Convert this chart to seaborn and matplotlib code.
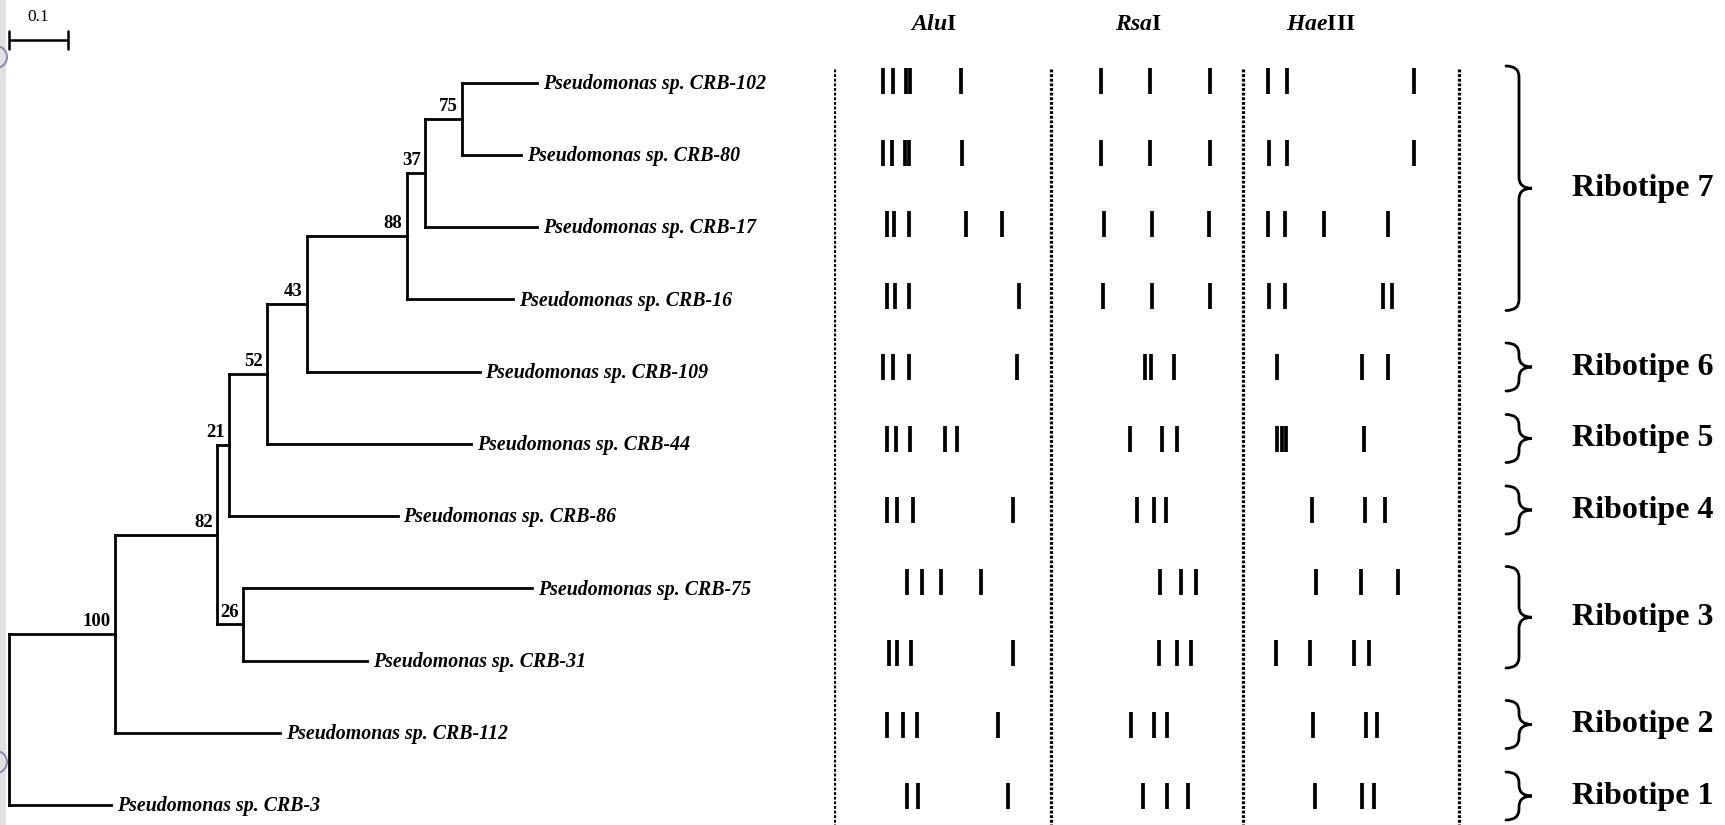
import numpy as np
import pandas as pd
import matplotlib
matplotlib.use("Agg")
import matplotlib.pyplot as plt
from matplotlib.collections import LineCollection
from matplotlib.path import Path
from matplotlib.patches import PathPatch, Rectangle, Arc
import seaborn as sns

sns.set_theme(style="white")
plt.rcParams["font.family"] = ["Liberation Serif", "DejaVu Serif"]
plt.rcParams["text.color"] = "black"
plt.rcParams["mathtext.fontset"] = "custom"
plt.rcParams["mathtext.it"] = "Liberation Serif:italic:bold"
plt.rcParams["mathtext.rm"] = "Liberation Serif:bold"
plt.rcParams["mathtext.bf"] = "Liberation Serif:bold"

# ---------------------------------------------------------------- data
# strains in tree order, top to bottom
strains = ["CRB-102", "CRB-80", "CRB-17", "CRB-16", "CRB-109", "CRB-44",
           "CRB-86", "CRB-75", "CRB-31", "CRB-112", "CRB-3"]

# tree topology with branch lengths (substitutions per site)
edge_parent = ["root", "root", "n100", "n100", "n82", "n82", "n26", "n26",
               "n21", "n21", "n52", "n52", "n43", "n43", "n88", "n88",
               "n37", "n37", "n75", "n75"]
edge_child = ["n100", "CRB-3", "n82", "CRB-112", "n21", "n26", "CRB-75", "CRB-31",
              "n52", "CRB-86", "n43", "CRB-44", "n88", "CRB-109", "n37", "CRB-16",
              "n75", "CRB-17", "CRB-102", "CRB-80"]
edge_length = [0.180, 0.173, 0.173, 0.280, 0.020, 0.044, 0.490, 0.210,
               0.064, 0.286, 0.068, 0.346, 0.169, 0.293, 0.031, 0.181,
               0.063, 0.190, 0.127, 0.100]

# bootstrap support
bootstrap_nodes = ["n100", "n82", "n26", "n21", "n52", "n43", "n88", "n37", "n75"]
bootstrap_values = [100, 82, 26, 21, 52, 43, 88, 37, 75]

# restriction enzymes and band positions (migration within each lane)
enzymes = ["Alu", "Rsa", "Hae"]
enzyme_suffix = ["I", "I", "III"]
alu_bands = [
    [49, 59, 71.5, 75.5, 127],
    [49, 58, 71, 75, 128],
    [53, 60, 75, 132, 168],
    [53, 61, 75, 185],
    [49, 59, 75, 183],
    [53, 62, 76, 111, 123],
    [53, 63, 79, 179],
    [73, 88, 107, 147],
    [55, 63, 77, 179],
    [53, 69, 83, 164],
    [73, 84, 174],
]
rsa_bands = [
    [50, 99, 159],
    [50, 99, 159],
    [53, 101, 158],
    [52, 101, 159],
    [94, 100, 123],
    [79, 111, 126],
    [86, 103, 115],
    [109, 130, 145],
    [108, 126, 140],
    [80, 103, 116],
    [92, 116, 137],
]
hae_bands = [
    [25, 44, 171],
    [26, 44, 171],
    [25, 42, 81, 145],
    [26, 42, 140, 149],
    [34, 119, 145],
    [34, 39, 43, 121],
    [69, 122, 142],
    [73, 118, 155],
    [33, 67, 111, 126],
    [70, 123, 134],
    [72, 119, 131],
]

# ribotype groups (first row, last row)
ribotype_names = ["Ribotipe 7", "Ribotipe 6", "Ribotipe 5", "Ribotipe 4",
                  "Ribotipe 3", "Ribotipe 2", "Ribotipe 1"]
ribotype_first = [0, 4, 5, 6, 7, 9, 10]
ribotype_last = [3, 4, 5, 6, 8, 9, 10]

# ---------------------------------------------------------------- layout
W, H = 1725, 825
PX_PER_UNIT = 590.0          # tree scale: pixels per substitution unit
ROOT_PX = 9.0
LEAF_TOP_PX, LEAF_STEP_PX = 82.5, 72.25
GEL_LEFT_PX = 834
GEL_ROW_TOP_PX, GEL_ROW_STEP_PX = 81.0, 71.5
lane_left = [0, 217, 409, 625]
header_x = [100, 305, 487]

fig = plt.figure(figsize=(W / 100, H / 100), dpi=100)
fig.patch.set_facecolor("white")

# thin grey strip along the left edge
fig.patches.append(Rectangle((0, 0), 6 / W, 1, transform=fig.transFigure,
                             facecolor="#e1e1e1", edgecolor="none", zorder=-5))
for cy in (57, 762):
    fig.patches.append(Arc((-4 / W, 1 - cy / H), 22 / W, 22 / H,
                           theta1=-90, theta2=90, transform=fig.transFigure,
                           color="#8a84b8", lw=1.4, zorder=-4))

# ---------------------------------------------------------------- tree
ax = fig.add_axes([0, 0, 1, 1])
ax.set_facecolor("none")
ax.set_xlim(-ROOT_PX / PX_PER_UNIT, (W - ROOT_PX) / PX_PER_UNIT)
ax.set_ylim((H - LEAF_TOP_PX) / LEAF_STEP_PX, -LEAF_TOP_PX / LEAF_STEP_PX)
ax.axis("off")

children = {}
depth = {"root": 0.0}
for p, c, L in zip(edge_parent, edge_child, edge_length):
    children.setdefault(p, []).append(c)
    depth[c] = depth[p] + L

ypos = {s: i for i, s in enumerate(strains)}


def node_y(n):
    if n in ypos:
        return ypos[n]
    ys = [node_y(c) for c in children[n]]
    ypos[n] = (min(ys) + max(ys)) / 2
    return ypos[n]


node_y("root")

segments = []
for n, kids in children.items():
    ys = [ypos[k] for k in kids]
    segments.append([(depth[n], min(ys)), (depth[n], max(ys))])
    for k in kids:
        segments.append([(depth[n], ypos[k]), (depth[k], ypos[k])])
ax.add_collection(LineCollection(segments, colors="black", linewidths=2.0,
                                 capstyle="projecting", joinstyle="miter"))

for s in strains:
    ax.annotate(f"Pseudomonas sp. {s}", (depth[s], ypos[s]), xytext=(4, -1),
                textcoords="offset points", ha="left", va="center",
                fontsize=14.3, style="italic", weight="bold", color="black")

for n, v in zip(bootstrap_nodes, bootstrap_values):
    ax.annotate(str(v), (depth[n], ypos[n]), xytext=(-3, 5.5),
                textcoords="offset points", ha="right", va="baseline",
                fontsize=13.5, weight="bold", color="black")

# scale bar
sb_y = (40 - LEAF_TOP_PX) / LEAF_STEP_PX
cap = 9 / LEAF_STEP_PX
ax.plot([0, 0.1], [sb_y, sb_y], color="black", lw=1.8, solid_capstyle="butt")
ax.plot([0, 0], [sb_y - cap, sb_y + cap], color="black", lw=1.8)
ax.plot([0.1, 0.1], [sb_y - cap, sb_y + cap], color="black", lw=1.8)
ax.text(0.05, (17 - LEAF_TOP_PX) / LEAF_STEP_PX, "0.1", ha="center", va="center",
        fontsize=12.5, color="black")

# ---------------------------------------------------------------- gel patterns
gx = fig.add_axes([GEL_LEFT_PX / W, 0, 1 - GEL_LEFT_PX / W, 1])
gx.set_facecolor("none")

records = []
for e, bands in enumerate([alu_bands, rsa_bands, hae_bands]):
    for r, row in enumerate(bands):
        for b in row:
            records.append({"enzyme": enzymes[e], "row": r, "x": lane_left[e] + b})
df = pd.DataFrame(records)

band_len_pt = 27 * 0.72
sns.scatterplot(data=df, x="x", y="row", marker="|", s=band_len_pt ** 2,
                linewidth=2.7, color="black", legend=False, ax=gx)
gy_bottom = (H - GEL_ROW_TOP_PX) / GEL_ROW_STEP_PX
gy_top = -GEL_ROW_TOP_PX / GEL_ROW_STEP_PX
gx.set_xlim(0, W - GEL_LEFT_PX)
gx.set_ylim(gy_bottom, gy_top)
gx.axis("off")

line_top = (69 - GEL_ROW_TOP_PX) / GEL_ROW_STEP_PX
for xl in lane_left:
    gx.plot([xl, xl], [line_top, gy_bottom], color="black", lw=2.3,
            linestyle=(0, (0.9, 0.55)), dash_capstyle="butt")

for hx, e, suf in zip(header_x, enzymes, enzyme_suffix):
    gx.text(hx, (24 - GEL_ROW_TOP_PX) / GEL_ROW_STEP_PX,
            rf"$\mathit{{{e}}}\mathrm{{{suf}}}$", ha="center", va="center",
            fontsize=17, color="black")

# braces and ribotype labels
bx0, bxm, bxt = 672, 685, 698
label_x = 738
for name, r0, r1 in zip(ribotype_names, ribotype_first, ribotype_last):
    pad = (24 if r0 == r1 else 15) / GEL_ROW_STEP_PX
    yt, yb = r0 - pad, r1 + pad
    ym = (yt + yb) / 2
    rr = min(11 / GEL_ROW_STEP_PX, (yb - yt) / 4)
    verts = [(bx0, yt), (bxm, yt), (bxm, yt + rr),
             (bxm, ym - rr),
             (bxm, ym), (bxt, ym),
             (bxm, ym), (bxm, ym + rr),
             (bxm, yb - rr),
             (bxm, yb), (bx0, yb)]
    codes = [Path.MOVETO, Path.CURVE3, Path.CURVE3,
             Path.LINETO,
             Path.CURVE3, Path.CURVE3,
             Path.CURVE3, Path.CURVE3,
             Path.LINETO,
             Path.CURVE3, Path.CURVE3]
    gx.add_patch(PathPatch(Path(verts, codes), facecolor="none",
                           edgecolor="black", lw=2.0, capstyle="round"))
    gx.text(label_x, ym, name, ha="left", va="center", fontsize=23,
            weight="bold", color="black")

fig.savefig("out.png", dpi=100, facecolor="white")
